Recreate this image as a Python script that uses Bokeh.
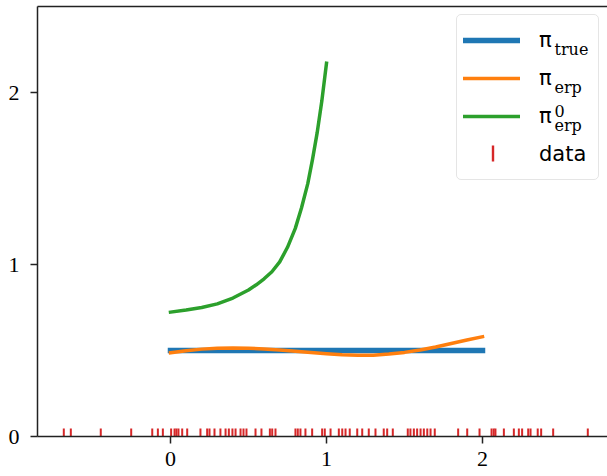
import math
from bokeh.plotting import figure
from bokeh.models import (Range1d, LinearAxis, FixedTicker, Legend, LegendItem,
                          Label, ColumnDataSource, BoxAnnotation)
from bokeh.embed import file_html
from bokeh.resources import INLINE

# ---------------- data ----------------
x_ticks = [0, 1, 2]
y_ticks = [0, 1, 2]

true_x = [0.0, 2.0]
true_y = [0.5, 0.5]

erp_x = [0.0, 0.1, 0.2, 0.3, 0.4, 0.5, 0.6, 0.7, 0.8, 0.9, 1.0,
         1.1, 1.2, 1.3, 1.4, 1.5, 1.6, 1.7, 1.8, 1.9, 2.0]
erp_y = [0.487, 0.499, 0.508, 0.513, 0.515, 0.513, 0.509, 0.503, 0.496, 0.489, 0.481,
         0.475, 0.472, 0.473, 0.479, 0.489, 0.503, 0.520, 0.541, 0.561, 0.580]

erp0_x = [0.0, 0.1, 0.2, 0.3, 0.4, 0.5, 0.55, 0.6, 0.65, 0.7, 0.75, 0.8,
          0.84, 0.88, 0.91, 0.94, 0.97, 1.0]
erp0_y = [0.723, 0.735, 0.750, 0.771, 0.805, 0.852, 0.882, 0.917, 0.958, 1.015, 1.100, 1.210,
          1.330, 1.470, 1.610, 1.765, 1.950, 2.170]

data = [-0.684, -0.639, -0.447, -0.252, -0.117, -0.081, -0.049, 0.004, 0.026, 0.038,
        0.051, 0.075, 0.107, 0.192, 0.235, 0.250, 0.282, 0.320, 0.353, 0.374,
        0.397, 0.417, 0.449, 0.468, 0.487, 0.545, 0.583, 0.637, 0.652, 0.673,
        0.801, 0.816, 0.833, 0.865, 0.908, 0.972, 0.989, 1.026, 1.079, 1.101,
        1.122, 1.149, 1.197, 1.229, 1.271, 1.314, 1.367, 1.389, 1.425, 1.521,
        1.538, 1.560, 1.581, 1.603, 1.624, 1.646, 1.667, 1.694, 1.844, 1.902,
        1.981, 2.058, 2.072, 2.083, 2.137, 2.201, 2.233, 2.254, 2.293, 2.308,
        2.354, 2.376, 2.453, 2.675]

labels = ["π", "π", "π", "data"]
subs = ["true", "erp", "erp"]
sups = [None, None, "0"]

# ---------------- layout ----------------
W, H = 607, 476
ML, MB, MT = 37, 40, 6
FRAME_W = W - ML
FRAME_H = H - MB - MT

p = figure(width=W, height=H, output_backend="svg", toolbar_location=None,
           x_range=Range1d(-0.8526, 2.8013), y_range=Range1d(0, 2.5),
           min_border_left=ML, min_border_right=0, min_border_top=MT,
           min_border_bottom=MB, x_axis_location=None, y_axis_location=None)
p.outline_line_color = None
p.background_fill_color = "white"
p.border_fill_color = "white"
p.xgrid.visible = False
p.ygrid.visible = False

TICK_FONT = "Liberation Serif"
AX_COL = "#222222"

xaxis = LinearAxis(ticker=FixedTicker(ticks=x_ticks))
yaxis = LinearAxis(ticker=FixedTicker(ticks=y_ticks))
for ax in (xaxis, yaxis):
    ax.axis_line_color = AX_COL
    ax.axis_line_width = 1.5
    ax.major_tick_line_color = AX_COL
    ax.major_tick_line_width = 1.5
    ax.major_tick_in = 0
    ax.major_tick_out = 7
    ax.minor_tick_line_color = None
    ax.axis_label_standoff = 0
    ax.major_label_text_font = TICK_FONT
    ax.major_label_text_font_size = "22px"
    ax.major_label_text_color = "black"
xaxis.major_label_standoff = 8
yaxis.major_label_standoff = 11
p.add_layout(xaxis, "below")
p.add_layout(yaxis, "left")

top = LinearAxis(ticker=FixedTicker(ticks=[]))
top.axis_line_color = AX_COL
top.axis_line_width = 1.5
top.major_tick_out = 0
top.major_tick_in = 0
top.minor_tick_out = 0
top.minor_tick_in = 0
top.major_label_text_font_size = "0px"
top.major_label_standoff = 0
top.axis_label_standoff = 0
p.add_layout(top, "above")

# ---------------- glyphs ----------------
r_true = p.line(true_x, true_y, line_color="#1f77b4", line_width=5.5, line_cap="square")
r_erp = p.line(erp_x, erp_y, line_color="#ff7f0e", line_width=3.5, line_cap="square",
               line_join="round")
r_erp0 = p.line(erp0_x, erp0_y, line_color="#2ca02c", line_width=3.5, line_cap="square",
                line_join="round")
rug_src = ColumnDataSource(dict(x=data, y=[0.0] * len(data)))
r_data = p.scatter("x", "y", source=rug_src, marker="dash", angle=math.pi / 2, size=16,
                   line_color="#d62728", line_width=2)
# legend stand-in for the rug (its vertical tick is drawn below as an overlay)
r_data_leg = p.line([], [], line_alpha=0)

# ---------------- legend ----------------
LEG_MARGIN = 8
LEG_PAD = 6
GLYPH_W, GLYPH_H = 57, 38
STANDOFF = 19
LABEL_W = 53
legend = Legend(items=[LegendItem(label=labels[0], renderers=[r_true]),
                       LegendItem(label=labels[1], renderers=[r_erp]),
                       LegendItem(label=labels[2], renderers=[r_erp0]),
                       LegendItem(label=labels[3], renderers=[r_data_leg])],
                location="top_right", margin=LEG_MARGIN, padding=LEG_PAD, spacing=0,
                glyph_width=GLYPH_W, glyph_height=GLYPH_H, label_standoff=STANDOFF,
                label_width=LABEL_W, label_text_font="DejaVu Sans",
                label_text_font_size="21px", label_text_color="black",
                border_line_color="#cccccc", border_line_width=1.5,
                background_fill_color="white", background_fill_alpha=0.0)
if "border_radius" in Legend.properties():
    legend.border_radius = 5
p.add_layout(legend)

# sub/superscripts next to the legend's π labels (frame-relative screen units, y up)
leg_w = 2 * LEG_PAD + GLYPH_W + STANDOFF + LABEL_W
leg_left = FRAME_W - LEG_MARGIN - leg_w
label_x0 = leg_left + LEG_PAD + GLYPH_W + STANDOFF
script_x = label_x0 + 14
row_c = [FRAME_H - LEG_MARGIN - LEG_PAD - GLYPH_H * i - GLYPH_H / 2 for i in range(4)]
for i in range(3):
    c = row_c[i]
    p.add_layout(Label(x=script_x, y=c - 10, x_units="screen", y_units="screen",
                       text=subs[i], text_font="DejaVu Serif", text_font_size="16px",
                       text_baseline="alphabetic", text_color="black", level="overlay"))
    if sups[i]:
        p.add_layout(Label(x=script_x, y=c + 5, x_units="screen", y_units="screen",
                           text=sups[i], text_font="DejaVu Serif", text_font_size="16px",
                           text_baseline="alphabetic", text_color="black", level="overlay"))

# vertical tick marker for the "data" legend entry
gx = leg_left + LEG_PAD + GLYPH_W / 2
p.add_layout(BoxAnnotation(left=gx - 1.2, right=gx + 1.2, bottom=row_c[3] - 8, top=row_c[3] + 8,
                           left_units="screen", right_units="screen",
                           bottom_units="screen", top_units="screen",
                           fill_color="#d62728", fill_alpha=1.0, line_color=None,
                           level="overlay"))

open("out.html", "w").write(file_html(p, INLINE))
